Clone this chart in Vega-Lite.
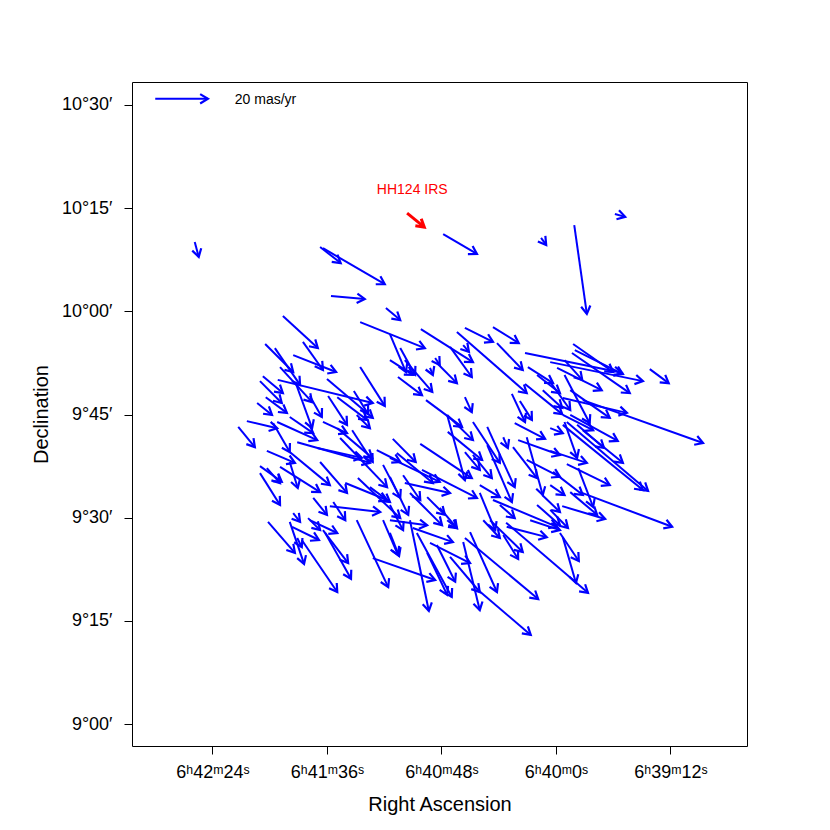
{
"$schema": "https://vega.github.io/schema/vega-lite/v6.json",
"width": 615, "height": 664,
"autosize": "none",
"padding": {"left": 132, "top": 82, "right": 83, "bottom": 84},
"background": "white",
"config": {
  "view": {"stroke": "#000000", "strokeWidth": 1},
  "font": "Liberation Sans",
  "axis": {"domain": false, "grid": false, "tickColor": "#000000", "tickSize": 8, "labelColor": "#000000", "labelFont": "Liberation Sans", "labelFontSize": 18, "titleFont": "Liberation Sans", "titleFontSize": 20, "titleFontWeight": "normal", "titleColor": "#000000"}
},
"data": {"values": [
{"ra":100.700,"de":10.515,"ra2":100.608,"de2":10.515},
{"ra":100.260,"de":10.238,"ra2":100.230,"de2":10.204,"g":"r"},
{"ra":100.631,"de":10.168,"ra2":100.624,"de2":10.132},
{"ra":100.412,"de":10.156,"ra2":100.376,"de2":10.117},
{"ra":100.407,"de":10.153,"ra2":100.299,"de2":10.066},
{"ra":100.393,"de":10.037,"ra2":100.334,"de2":10.030},
{"ra":100.297,"de":10.008,"ra2":100.272,"de2":9.979},
{"ra":100.197,"de":10.187,"ra2":100.138,"de2":10.139},
{"ra":100.026,"de":10.178,"ra2":100.017,"de2":10.161},
{"ra":99.968,"de":10.209,"ra2":99.946,"de2":9.994},
{"ra":99.897,"de":10.236,"ra2":99.879,"de2":10.229},
{"ra":100.477,"de":9.989,"ra2":100.416,"de2":9.911},
{"ra":100.442,"de":9.926,"ra2":100.407,"de2":9.858},
{"ra":100.459,"de":9.894,"ra2":100.384,"de2":9.853},
{"ra":100.508,"de":9.921,"ra2":100.459,"de2":9.853},
{"ra":100.491,"de":9.911,"ra2":100.447,"de2":9.822},
{"ra":100.482,"de":9.865,"ra2":100.426,"de2":9.780},
{"ra":100.486,"de":9.834,"ra2":100.320,"de2":9.778},
{"ra":100.512,"de":9.843,"ra2":100.477,"de2":9.802},
{"ra":100.517,"de":9.831,"ra2":100.479,"de2":9.778},
{"ra":100.400,"de":9.836,"ra2":100.320,"de2":9.742},
{"ra":100.342,"de":9.865,"ra2":100.299,"de2":9.771},
{"ra":100.353,"de":9.807,"ra2":100.328,"de2":9.751},
{"ra":100.522,"de":9.778,"ra2":100.496,"de2":9.749},
{"ra":100.507,"de":9.792,"ra2":100.470,"de2":9.754},
{"ra":100.430,"de":9.795,"ra2":100.409,"de2":9.744},
{"ra":100.398,"de":9.795,"ra2":100.365,"de2":9.725},
{"ra":100.382,"de":9.792,"ra2":100.330,"de2":9.737},
{"ra":100.454,"de":9.824,"ra2":100.426,"de2":9.717},
{"ra":100.342,"de":9.974,"ra2":100.229,"de2":9.911},
{"ra":100.290,"de":9.945,"ra2":100.262,"de2":9.853},
{"ra":100.272,"de":9.911,"ra2":100.246,"de2":9.846},
{"ra":100.264,"de":9.882,"ra2":100.216,"de2":9.805},
{"ra":100.290,"de":9.882,"ra2":100.250,"de2":9.846},
{"ra":100.236,"de":9.957,"ra2":100.145,"de2":9.877},
{"ra":100.173,"de":9.950,"ra2":100.051,"de2":9.802},
{"ra":100.185,"de":9.914,"ra2":100.147,"de2":9.841},
{"ra":100.159,"de":9.960,"ra2":100.110,"de2":9.926},
{"ra":100.110,"de":9.962,"ra2":100.065,"de2":9.923},
{"ra":100.162,"de":9.918,"ra2":100.152,"de2":9.902},
{"ra":100.103,"de":9.923,"ra2":100.058,"de2":9.858},
{"ra":100.054,"de":9.899,"ra2":99.885,"de2":9.851},
{"ra":100.211,"de":9.887,"ra2":100.203,"de2":9.870},
{"ra":100.220,"de":9.863,"ra2":100.215,"de2":9.846},
{"ra":100.208,"de":9.875,"ra2":100.173,"de2":9.826},
{"ra":100.276,"de":9.841,"ra2":100.234,"de2":9.797},
{"ra":100.159,"de":9.792,"ra2":100.147,"de2":9.756},
{"ra":100.227,"de":9.785,"ra2":100.164,"de2":9.720},
{"ra":100.049,"de":9.865,"ra2":100.005,"de2":9.826},
{"ra":100.033,"de":9.846,"ra2":99.993,"de2":9.802},
{"ra":100.054,"de":9.824,"ra2":99.989,"de2":9.751},
{"ra":100.077,"de":9.800,"ra2":100.054,"de2":9.732},
{"ra":100.063,"de":9.783,"ra2":100.042,"de2":9.737},
{"ra":100.023,"de":9.809,"ra2":99.989,"de2":9.766},
{"ra":99.970,"de":9.921,"ra2":99.900,"de2":9.853},
{"ra":99.967,"de":9.906,"ra2":99.883,"de2":9.848},
{"ra":99.972,"de":9.899,"ra2":99.871,"de2":9.802},
{"ra":100.010,"de":9.877,"ra2":99.848,"de2":9.831},
{"ra":99.836,"de":9.860,"ra2":99.803,"de2":9.826},
{"ra":99.998,"de":9.863,"ra2":99.920,"de2":9.809},
{"ra":99.985,"de":9.882,"ra2":99.954,"de2":9.834},
{"ra":99.985,"de":9.846,"ra2":99.941,"de2":9.729},
{"ra":99.988,"de":9.790,"ra2":99.876,"de2":9.754},
{"ra":99.975,"de":9.809,"ra2":99.906,"de2":9.742},
{"ra":99.953,"de":9.785,"ra2":99.743,"de2":9.681},
{"ra":100.010,"de":9.829,"ra2":99.975,"de2":9.761},
{"ra":100.010,"de":9.717,"ra2":99.988,"de2":9.705},
{"ra":99.988,"de":9.749,"ra2":99.935,"de2":9.712},
{"ra":99.975,"de":9.749,"ra2":99.892,"de2":9.686},
{"ra":99.963,"de":9.725,"ra2":99.916,"de2":9.669},
{"ra":99.953,"de":9.712,"ra2":99.883,"de2":9.633},
{"ra":99.981,"de":9.732,"ra2":99.839,"de2":9.565},
{"ra":99.988,"de":9.725,"ra2":99.848,"de2":9.567},
{"ra":99.985,"de":9.732,"ra2":99.963,"de2":9.645},
{"ra":100.010,"de":9.662,"ra2":99.946,"de2":9.633},
{"ra":99.981,"de":9.630,"ra2":99.906,"de2":9.579},
{"ra":100.005,"de":9.611,"ra2":99.953,"de2":9.555},
{"ra":99.961,"de":9.620,"ra2":99.935,"de2":9.526},
{"ra":99.958,"de":9.562,"ra2":99.797,"de2":9.478},
{"ra":99.989,"de":9.528,"ra2":99.914,"de2":9.497},
{"ra":99.975,"de":9.562,"ra2":99.928,"de2":9.507},
{"ra":100.010,"de":9.579,"ra2":99.985,"de2":9.555},
{"ra":100.010,"de":9.519,"ra2":99.979,"de2":9.475},
{"ra":99.993,"de":9.463,"ra2":99.960,"de2":9.395},
{"ra":99.988,"de":9.453,"ra2":99.965,"de2":9.342},
{"ra":100.087,"de":9.488,"ra2":99.944,"de2":9.318},
{"ra":100.555,"de":9.720,"ra2":100.526,"de2":9.671},
{"ra":100.540,"de":9.734,"ra2":100.487,"de2":9.717},
{"ra":100.494,"de":9.729,"ra2":100.465,"de2":9.659},
{"ra":100.487,"de":9.732,"ra2":100.417,"de2":9.688},
{"ra":100.505,"de":9.662,"ra2":100.456,"de2":9.633},
{"ra":100.517,"de":9.625,"ra2":100.479,"de2":9.587},
{"ra":100.505,"de":9.620,"ra2":100.482,"de2":9.584},
{"ra":100.517,"de":9.608,"ra2":100.482,"de2":9.531},
{"ra":100.482,"de":9.623,"ra2":100.412,"de2":9.562},
{"ra":100.465,"de":9.635,"ra2":100.451,"de2":9.572},
{"ra":100.465,"de":9.659,"ra2":100.395,"de2":9.579},
{"ra":100.452,"de":9.683,"ra2":100.325,"de2":9.633},
{"ra":100.417,"de":9.669,"ra2":100.339,"de2":9.645},
{"ra":100.412,"de":9.635,"ra2":100.365,"de2":9.560},
{"ra":100.407,"de":9.732,"ra2":100.365,"de2":9.705},
{"ra":100.465,"de":9.744,"ra2":100.424,"de2":9.705},
{"ra":100.382,"de":9.717,"ra2":100.321,"de2":9.645},
{"ra":100.356,"de":9.712,"ra2":100.320,"de2":9.635},
{"ra":100.348,"de":9.749,"ra2":100.325,"de2":9.717},
{"ra":100.377,"de":9.693,"ra2":100.295,"de2":9.574},
{"ra":100.313,"de":9.664,"ra2":100.272,"de2":9.635},
{"ra":100.302,"de":9.628,"ra2":100.272,"de2":9.548},
{"ra":100.368,"de":9.584,"ra2":100.295,"de2":9.543},
{"ra":100.395,"de":9.528,"ra2":100.307,"de2":9.514},
{"ra":100.424,"de":9.548,"ra2":100.400,"de2":9.507},
{"ra":100.459,"de":9.511,"ra2":100.447,"de2":9.490},
{"ra":100.389,"de":9.538,"ra2":100.368,"de2":9.494},
{"ra":100.433,"de":9.499,"ra2":100.412,"de2":9.470},
{"ra":100.346,"de":9.596,"ra2":100.272,"de2":9.499},
{"ra":100.325,"de":9.574,"ra2":100.290,"de2":9.538},
{"ra":100.503,"de":9.490,"ra2":100.456,"de2":9.415},
{"ra":100.465,"de":9.490,"ra2":100.440,"de2":9.388},
{"ra":100.461,"de":9.478,"ra2":100.414,"de2":9.446},
{"ra":100.452,"de":9.451,"ra2":100.444,"de2":9.429},
{"ra":100.444,"de":9.446,"ra2":100.382,"de2":9.320},
{"ra":100.430,"de":9.494,"ra2":100.382,"de2":9.463},
{"ra":100.407,"de":9.470,"ra2":100.363,"de2":9.390},
{"ra":100.403,"de":9.463,"ra2":100.358,"de2":9.352},
{"ra":100.348,"de":9.494,"ra2":100.293,"de2":9.332},
{"ra":100.320,"de":9.402,"ra2":100.211,"de2":9.349},
{"ra":100.302,"de":9.494,"ra2":100.276,"de2":9.410},
{"ra":100.290,"de":9.463,"ra2":100.274,"de2":9.407},
{"ra":100.255,"de":9.494,"ra2":100.222,"de2":9.274},
{"ra":100.250,"de":9.475,"ra2":100.180,"de2":9.441},
{"ra":100.243,"de":9.463,"ra2":100.182,"de2":9.308},
{"ra":100.225,"de":9.415,"ra2":100.190,"de2":9.313},
{"ra":100.220,"de":9.439,"ra2":100.150,"de2":9.390},
{"ra":100.208,"de":9.434,"ra2":100.176,"de2":9.345},
{"ra":100.162,"de":9.441,"ra2":100.133,"de2":9.276},
{"ra":100.159,"de":9.451,"ra2":100.031,"de2":9.303},
{"ra":100.150,"de":9.465,"ra2":100.103,"de2":9.320},
{"ra":100.136,"de":9.325,"ra2":100.044,"de2":9.216},
{"ra":100.185,"de":9.405,"ra2":100.133,"de2":9.320},
{"ra":100.127,"de":9.494,"ra2":100.098,"de2":9.451},
{"ra":100.086,"de":9.478,"ra2":100.016,"de2":9.453},
{"ra":100.092,"de":9.458,"ra2":100.066,"de2":9.400},
{"ra":100.115,"de":9.494,"ra2":100.058,"de2":9.417},
{"ra":100.045,"de":9.494,"ra2":99.993,"de2":9.470},
{"ra":100.290,"de":9.494,"ra2":100.225,"de2":9.482},
{"ra":100.190,"de":9.494,"ra2":100.173,"de2":9.475},
{"ra":100.285,"de":9.691,"ra2":100.245,"de2":9.635},
{"ra":100.237,"de":9.679,"ra2":100.147,"de2":9.596},
{"ra":100.190,"de":9.749,"ra2":100.159,"de2":9.591},
{"ra":100.189,"de":9.708,"ra2":100.129,"de2":9.640},
{"ra":100.190,"de":9.749,"ra2":100.145,"de2":9.688},
{"ra":100.145,"de":9.732,"ra2":100.098,"de2":9.633},
{"ra":100.120,"de":9.720,"ra2":100.072,"de2":9.574},
{"ra":100.159,"de":9.659,"ra2":100.133,"de2":9.616},
{"ra":100.145,"de":9.652,"ra2":100.112,"de2":9.596},
{"ra":100.092,"de":9.695,"ra2":100.084,"de2":9.669},
{"ra":100.120,"de":9.676,"ra2":100.077,"de2":9.538},
{"ra":100.072,"de":9.729,"ra2":100.019,"de2":9.691},
{"ra":100.066,"de":9.688,"ra2":99.993,"de2":9.652},
{"ra":100.051,"de":9.695,"ra2":100.023,"de2":9.555},
{"ra":100.075,"de":9.671,"ra2":100.033,"de2":9.596},
{"ra":100.051,"de":9.640,"ra2":99.993,"de2":9.599},
{"ra":100.290,"de":9.645,"ra2":100.203,"de2":9.587},
{"ra":100.278,"de":9.657,"ra2":100.215,"de2":9.584},
{"ra":100.267,"de":9.603,"ra2":100.237,"de2":9.543},
{"ra":100.264,"de":9.584,"ra2":100.185,"de2":9.560},
{"ra":100.234,"de":9.616,"ra2":100.138,"de2":9.548},
{"ra":100.290,"de":9.599,"ra2":100.258,"de2":9.507},
{"ra":100.133,"de":9.579,"ra2":100.098,"de2":9.550},
{"ra":100.133,"de":9.560,"ra2":100.106,"de2":9.470},
{"ra":100.110,"de":9.543,"ra2":99.998,"de2":9.478},
{"ra":100.098,"de":9.531,"ra2":100.072,"de2":9.499},
{"ra":100.225,"de":9.550,"ra2":100.194,"de2":9.507},
{"ra":100.255,"de":9.560,"ra2":100.199,"de2":9.482},
{"ra":100.203,"de":9.524,"ra2":100.173,"de2":9.475},
{"ra":100.033,"de":9.531,"ra2":99.993,"de2":9.482},
{"ra":100.290,"de":9.531,"ra2":100.267,"de2":9.470},
{"ra":100.024,"de":9.555,"ra2":99.993,"de2":9.514}
]},
"encoding": {
  "x": {"field": "ra", "type": "quantitative", "title": "Right Ascension",
        "scale": {"domain": [99.6662, 100.7406], "reverse": true, "nice": false, "zero": false},
        "axis": {"values": [100.6, 100.4, 100.2, 100.0, 99.8], "labelPadding": 9, "titlePadding": 13, "labelFlush": false,
                 "labelExpr": "floor(round(datum.value*240)/3600) + 'ʰ' + floor((round(datum.value*240)%3600)/60) + 'ᵐ' + (round(datum.value*240)%60) + 'ˢ'"}},
  "y": {"field": "de", "type": "quantitative", "title": "Declination",
        "scale": {"domain": [8.9469, 10.5557], "nice": false, "zero": false},
        "axis": {"values": [9, 9.25, 9.5, 9.75, 10, 10.25, 10.5], "labelPadding": 12, "titlePadding": 10, "labelFlush": false,
                 "labelExpr": "floor(datum.value) + '°' + (round((datum.value-floor(datum.value))*60) < 10 ? '0' : '') + round((datum.value-floor(datum.value))*60) + '′'"}}
},
"layer": [
  {"mark": {"type": "rule"},
   "encoding": {
     "x2": {"field": "ra2"}, "y2": {"field": "de2"},
     "color": {"condition": {"test": "datum.g === 'r'", "value": "#FF0000"}, "value": "#0000FF"},
     "strokeWidth": {"condition": {"test": "datum.g === 'r'", "value": 3}, "value": 2}}},
  {"transform": [{"calculate": "atan2((datum.ra - datum.ra2) * 572.5, (datum.de2 - datum.de) * 412.67) * 180 / PI", "as": "ang"}],
   "mark": {"type": "point", "shape": "M-0.6,1L0,0L0.6,1", "filled": false, "opacity": 1, "size": 240, "strokeJoin": "miter"},
   "encoding": {
     "x": {"field": "ra2", "type": "quantitative", "title": "Right Ascension"},
     "y": {"field": "de2", "type": "quantitative", "title": "Declination"},
     "angle": {"field": "ang", "type": "quantitative", "scale": null},
     "color": {"condition": {"test": "datum.g === 'r'", "value": "#FF0000"}, "value": "#0000FF"},
     "strokeWidth": {"condition": {"test": "datum.g === 'r'", "value": 3}, "value": 2.2}}},
  {"data": {"values": [{"ra": 100.561, "de": 10.512, "t": "20 mas/yr"}]},
   "mark": {"type": "text", "align": "left", "baseline": "middle", "fontSize": 14, "color": "#000000"},
   "encoding": {"text": {"field": "t"}}},
  {"data": {"values": [{"ra": 100.251, "de": 10.294, "t": "HH124 IRS"}]},
   "mark": {"type": "text", "align": "center", "baseline": "middle", "fontSize": 14, "color": "#FF0000"},
   "encoding": {"text": {"field": "t"}}}
]
}
